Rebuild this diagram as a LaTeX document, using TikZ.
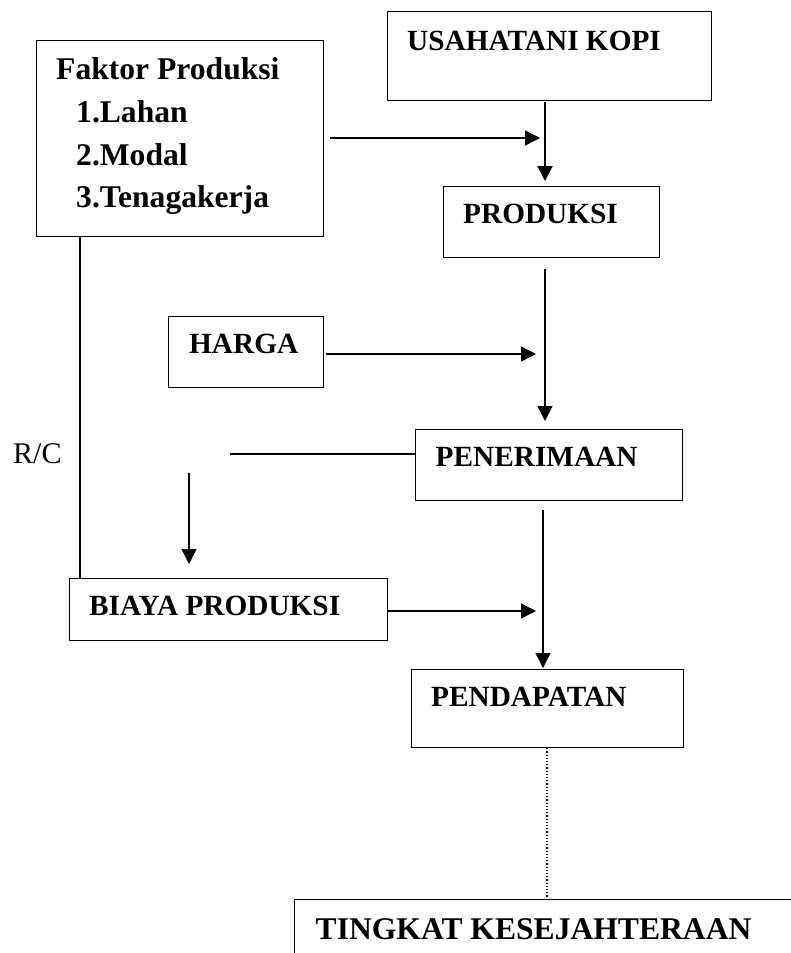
\documentclass[tikz,border=0pt]{standalone}
\usepackage{fontspec}
\setmainfont{Liberation Serif}
\usetikzlibrary{arrows.meta}
\begin{document}
\begin{tikzpicture}[x=1pt,y=-1pt,
  box/.style={draw, line width=1.2pt, inner sep=0pt, anchor=north west},
  lbl/.style={anchor=base west, inner sep=0pt, font=\bfseries\fontsize{29.3}{35}\selectfont},
  lblbig/.style={anchor=base west, inner sep=0pt, font=\bfseries\fontsize{31.6}{38}\selectfont},
  conn/.style={line width=1.3pt},
  arr/.style={line width=1.3pt, -{Triangle[length=15pt,width=15pt]}}
]
\clip (0,0) rectangle (791,953);
\fill[white] (0,0) rectangle (791,953);
% boxes
\node[box, minimum width=287.5pt, minimum height=196pt] (fak) at (35.5,40) {};
\node[box, minimum width=324pt, minimum height=89pt] (usa) at (387,11) {};
\node[box, minimum width=216pt, minimum height=71pt] (prod) at (443,186) {};
\node[box, minimum width=155pt, minimum height=71pt] (har) at (168,316) {};
\node[box, minimum width=267pt, minimum height=71pt] (pen) at (415,429) {};
\node[box, minimum width=318.5pt, minimum height=62pt] (bia) at (68.5,578) {};
\node[box, minimum width=272pt, minimum height=78pt] (pend) at (411,669) {};
\node[box, minimum width=560pt, minimum height=120pt] (ting) at (294,899) {};
% texts
\node[lblbig] (tfak) at (56,79) {Faktor Produksi};
\node[lblbig] (tl1) at (76,122) {1.Lahan};
\node[lblbig] (tl2) at (76,165) {2.Modal};
\node[lblbig] (tl3) at (76,207) {3.Tenagakerja};
\node[lbl] (tusa) at (407,50) {USAHATANI KOPI};
\node[lbl] (tprod) at (463,223) {PRODUKSI};
\node[lbl] (thar) at (189,353) {HARGA};
\node[lbl] (tpen) at (435.5,466) {PENERIMAAN};
\node[lbl] (tbia) at (89,615) {BIAYA PRODUKSI};
\node[lbl] (tpend) at (431,706) {PENDAPATAN};
\node[lblbig] (tting) at (315.5,939) {TINGKAT KESEJAHTERAAN};
\node[anchor=base west, inner sep=0pt, font=\fontsize{30}{36}\selectfont] (trc) at (13,463) {R/C};
% coordinates
\coordinate (a1) at (545,102);
\coordinate (a2) at (545,181);
\coordinate (f1) at (330,138);
\coordinate (f2) at (540,138);
\coordinate (p1) at (545,269);
\coordinate (p2) at (545,421);
\coordinate (h1) at (326,354);
\coordinate (h2) at (536,354);
\coordinate (r1) at (230,454);
\coordinate (d1) at (189,473);
\coordinate (d2) at (189,564);
\coordinate (lx) at (80,0);
\coordinate (b2) at (536,611);
\coordinate (e1) at (543,510);
\coordinate (e2) at (543,668);
\coordinate (dx) at (547,0);
% connectors
\draw[arr, line width=2pt] (a1) -- (a2);
\draw[arr] (f1) -- (f2);
\draw[arr] (p1) -- (p2);
\draw[arr] (h1) -- (h2);
\draw[conn] (r1) -- (r1 -| pen.west);
\draw[arr] (d1) -- (d2);
\draw[conn] (fak.south -| lx) -- (bia.north -| lx);
\draw[arr] (bia.east |- b2) -- (b2);
\draw[arr] (e1) -- (e2);
\draw[line width=1.2pt, dotted] (pend.south -| dx) -- (ting.north -| dx);
\end{tikzpicture}
\end{document}
